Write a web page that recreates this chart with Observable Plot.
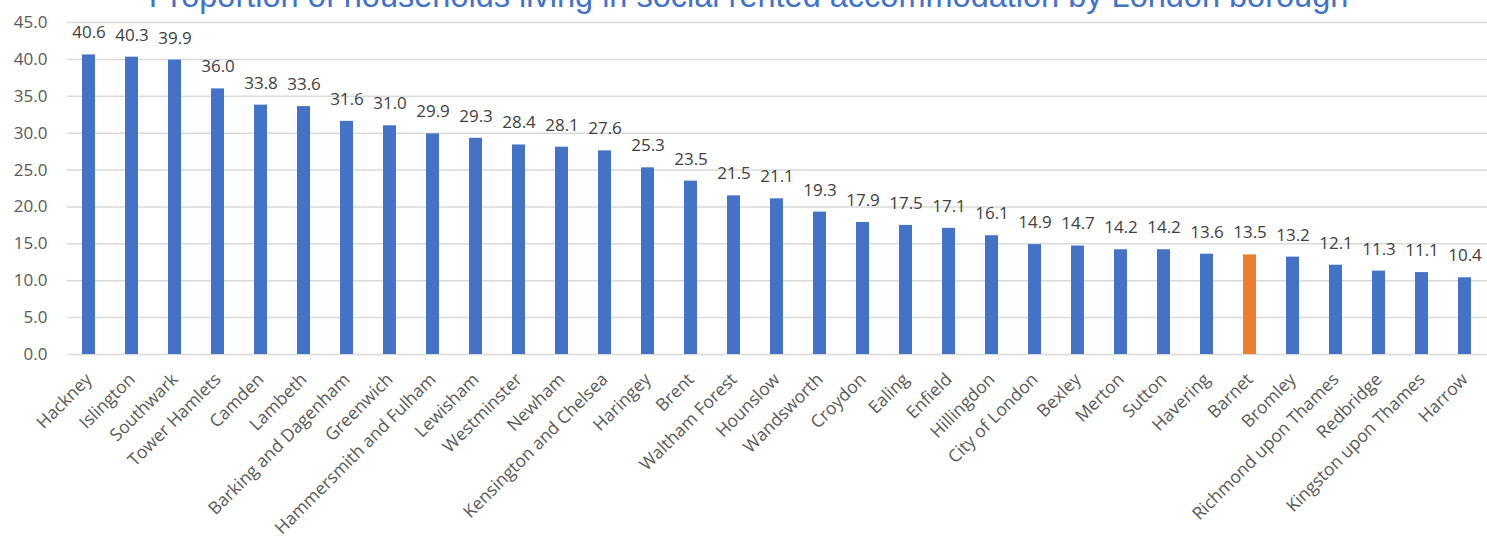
<!DOCTYPE html>
<html>
<head>
<meta charset="utf-8">
<script src="https://cdn.jsdelivr.net/npm/d3@7"></script>
<script src="https://cdn.jsdelivr.net/npm/@observablehq/plot@0.6"></script>
<style>
  html, body { margin: 0; padding: 0; background: #ffffff; overflow: hidden; }
  #wrap { position: relative; width: 1487px; height: 541px; }
  #title { position: absolute; left: 0; width: 1497px; top: -20px; text-align: center;
           font-family: "Liberation Sans", Arial, sans-serif; font-size: 32.5px; line-height: 32.5px;
           color: #4472C4; white-space: nowrap; z-index: 2; }
  #chart { position: absolute; left: 0; top: 0; }
</style>
</head>
<body>
<div id="wrap">
  <div id="title">Proportion of households living in social rented accommodation by London borough</div>
  <div id="chart"></div>
</div>
<script>
const boroughs = ["Hackney","Islington","Southwark","Tower Hamlets","Camden","Lambeth","Barking and Dagenham","Greenwich","Hammersmith and Fulham","Lewisham","Westminster","Newham","Kensington and Chelsea","Haringey","Brent","Waltham Forest","Hounslow","Wandsworth","Croydon","Ealing","Enfield","Hillingdon","City of London","Bexley","Merton","Sutton","Havering","Barnet","Bromley","Richmond upon Thames","Redbridge","Kingston upon Thames","Harrow"];
const values = [40.6,40.3,39.9,36.0,33.8,33.6,31.6,31.0,29.9,29.3,28.4,28.1,27.6,25.3,23.5,21.5,21.1,19.3,17.9,17.5,17.1,16.1,14.9,14.7,14.2,14.2,13.6,13.5,13.2,12.1,11.3,11.1,10.4];
const highlighted = ["Barnet"];
const yTicks = [0,5,10,15,20,25,30,35,40,45];

const data = boroughs.map((b, i) => ({borough: b, value: values[i], hi: highlighted.includes(b)}));

const fontFam = "'Open Sans', 'DejaVu Sans', sans-serif";
const chart = Plot.plot({
  width: 1487,
  height: 541,
  marginLeft: 67,
  marginRight: 0,
  marginTop: 22,
  marginBottom: 187,
  style: {fontFamily: fontFam, background: "transparent"},
  x: {domain: boroughs, paddingInner: 0.69, paddingOuter: 0.345, label: null},
  y: {domain: [0, 45], label: null},
  marks: [
    Plot.gridY(yTicks, {stroke: "#d9d9d9", strokeOpacity: 1, strokeWidth: 1.5}),
    Plot.axisY(yTicks, {tickSize: 0, tickPadding: 20, tickFormat: d3.format(".1f"), fontSize: 17, fill: "#595959", label: null}),
    Plot.axisX({tickSize: 0, tickPadding: 22, tickRotate: -45, fontSize: 17.5, fill: "#595959", label: null}),
    Plot.barY(data, {x: "borough", y: "value", fill: d => d.hi ? "#ED7D31" : "#4472C4"}),
    Plot.text(data, {x: "borough", y: "value", text: d => d3.format(".1f")(d.value), dy: -22, fontSize: 17, fill: "#404040"})
  ]
});
document.getElementById("chart").appendChild(chart);
</script>
</body>
</html>
